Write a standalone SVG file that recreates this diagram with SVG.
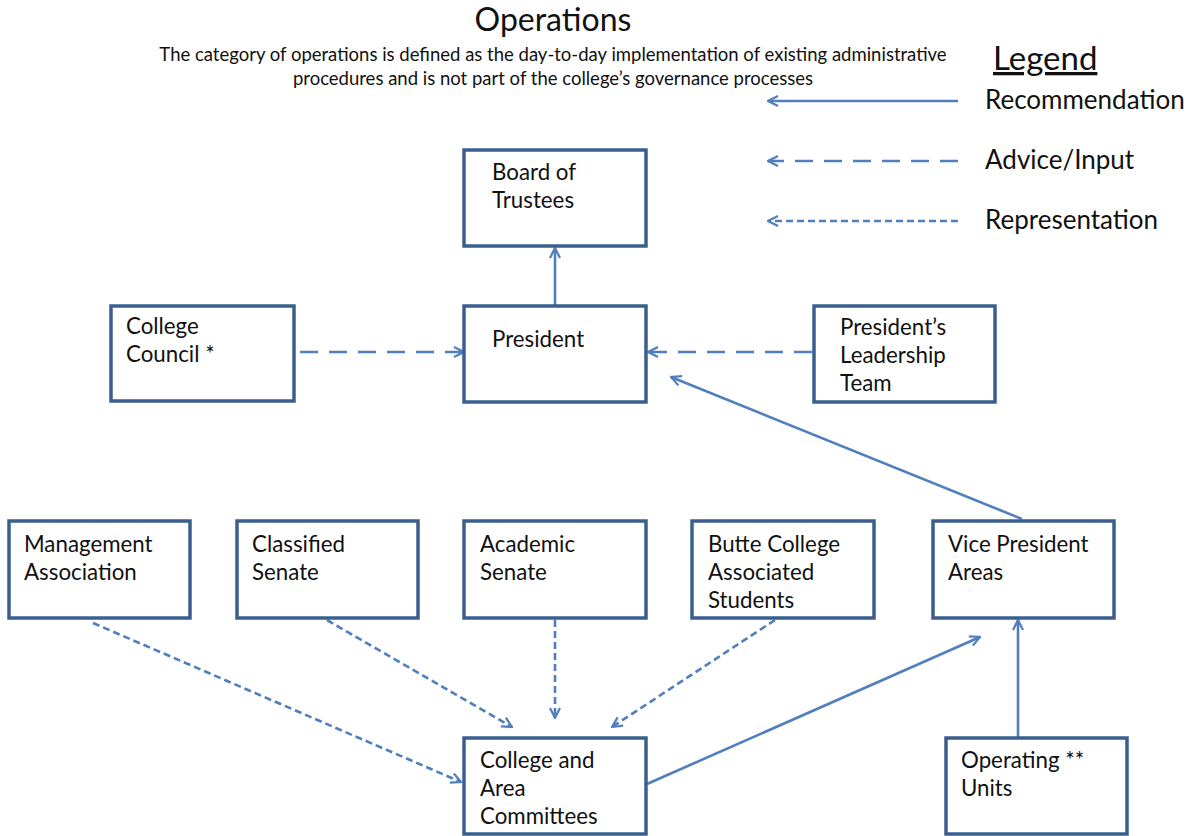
<svg xmlns="http://www.w3.org/2000/svg" width="1191" height="836" viewBox="0 0 1191 836">
<style>
.box{fill:#fff;stroke:#3a5f8f;stroke-width:3.5}
.t{font-family:Lato,"Open Sans",sans-serif;font-size:22.3px;fill:#111}
.c{fill:none;stroke:#4f7fbc;stroke-width:2.6}
.adv{stroke-dasharray:18 11}
.rep{stroke-dasharray:7 4}
</style>
<defs>
<marker id="ah" viewBox="0 0 12 12" refX="11" refY="6" markerWidth="12" markerHeight="12" markerUnits="userSpaceOnUse" orient="auto">
<path d="M1,1 L11,6 L1,11" fill="none" stroke="#4f7fbc" stroke-width="2.2"/>
</marker>
</defs>
<rect width="1191" height="836" fill="#fff"/>
<g id="title">
<text x="553" y="31" text-anchor="middle" font-family="Lato,'Open Sans',sans-serif" font-size="32" fill="#111">Operations</text>
<text x="553" y="61" text-anchor="middle" font-family="Lato,'Open Sans',sans-serif" font-size="18.5" fill="#111">The category of operations is defined as the day-to-day implementation of existing administrative</text>
<text x="553" y="85" text-anchor="middle" font-family="Lato,'Open Sans',sans-serif" font-size="18.5" fill="#111">procedures and is not part of the college’s governance processes</text>
</g>
<g id="legend">
<text x="993" y="70" font-family="Lato,'Open Sans',sans-serif" font-size="33" fill="#111" text-decoration="underline">Legend</text>
<text x="985" y="109" font-family="Lato,'Open Sans',sans-serif" font-size="26" fill="#111">Recommendation</text>
<text x="985" y="169" font-family="Lato,'Open Sans',sans-serif" font-size="26" fill="#111">Advice/Input</text>
<text x="985" y="229" font-family="Lato,'Open Sans',sans-serif" font-size="26" fill="#111">Representation</text>
<line class="c" x1="958" y1="101" x2="768" y2="101" marker-end="url(#ah)"/>
<line class="c adv" x1="958" y1="161" x2="768" y2="161" marker-end="url(#ah)"/>
<line class="c rep" x1="958" y1="221" x2="768" y2="221" marker-end="url(#ah)"/>
</g>
<g id="connectors">
<line class="c" x1="555" y1="305" x2="555" y2="248" marker-end="url(#ah)"/>
<line class="c adv" x1="300" y1="352" x2="464" y2="352" marker-end="url(#ah)"/>
<line class="c adv" x1="812" y1="352" x2="648" y2="352" marker-end="url(#ah)"/>
<line class="c" x1="1022" y1="519" x2="671" y2="377" marker-end="url(#ah)"/>
<line class="c rep" x1="93" y1="623" x2="461" y2="782" marker-end="url(#ah)"/>
<line class="c rep" x1="327" y1="620" x2="512" y2="727" marker-end="url(#ah)"/>
<line class="c rep" x1="555" y1="620" x2="555" y2="718" marker-end="url(#ah)"/>
<line class="c rep" x1="775" y1="620" x2="612" y2="727" marker-end="url(#ah)"/>
<line class="c" x1="647" y1="784" x2="980" y2="637" marker-end="url(#ah)"/>
<line class="c" x1="1018" y1="737" x2="1018" y2="620" marker-end="url(#ah)"/>
</g>
<g id="board"><rect class="box" x="464" y="150" width="182" height="96"/><text class="t" x="492" y="180">Board of</text><text class="t" x="492" y="208">Trustees</text></g>
<g id="president"><rect class="box" x="464" y="306" width="182" height="96"/><text class="t" x="492" y="347">President</text></g>
<g id="council"><rect class="box" x="111" y="306" width="183" height="95"/><text class="t" x="126" y="334">College</text><text class="t" x="126" y="362">Council *</text></g>
<g id="plt"><rect class="box" x="814" y="306" width="181" height="96"/><text class="t" x="840" y="335">President’s</text><text class="t" x="840" y="363">Leadership</text><text class="t" x="840" y="391">Team</text></g>
<g id="mgmt"><rect class="box" x="9" y="521" width="181" height="97"/><text class="t" x="24" y="552">Management</text><text class="t" x="24" y="580">Association</text></g>
<g id="classified"><rect class="box" x="237" y="521" width="181" height="97"/><text class="t" x="252" y="552">Classified</text><text class="t" x="252" y="580">Senate</text></g>
<g id="academic"><rect class="box" x="464" y="521" width="182" height="97"/><text class="t" x="480" y="552">Academic</text><text class="t" x="480" y="580">Senate</text></g>
<g id="butte"><rect class="box" x="692" y="521" width="182" height="97"/><text class="t" x="708" y="552">Butte College</text><text class="t" x="708" y="580">Associated</text><text class="t" x="708" y="608">Students</text></g>
<g id="vp"><rect class="box" x="933" y="521" width="181" height="97"/><text class="t" x="948" y="552">Vice President</text><text class="t" x="948" y="580">Areas</text></g>
<g id="committees"><rect class="box" x="464" y="738" width="182" height="96"/><text class="t" x="480" y="768">College and</text><text class="t" x="480" y="796">Area</text><text class="t" x="480" y="824">Committees</text></g>
<g id="units"><rect class="box" x="946" y="738" width="181" height="96"/><text class="t" x="961" y="768">Operating **</text><text class="t" x="961" y="796">Units</text></g>
</svg>
